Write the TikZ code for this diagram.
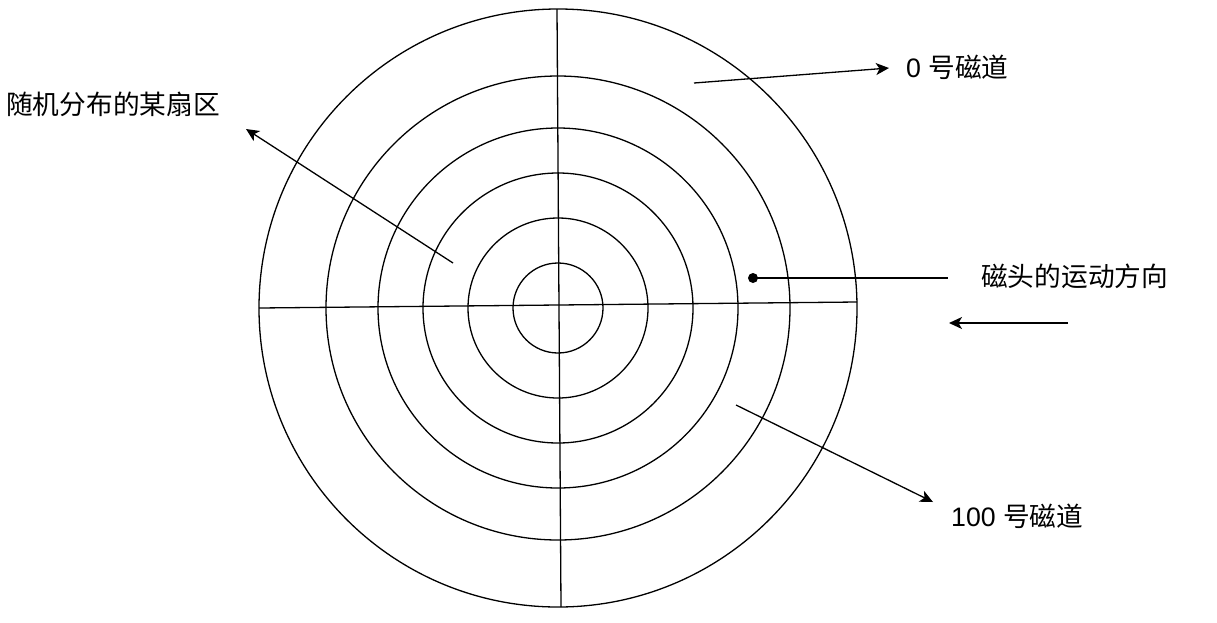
\documentclass[tikz,border=0pt]{standalone}
\usepackage{fontspec}
\setmainfont{Liberation Sans}
\newfontfamily\cjk{Noto Sans CJK SC}
\usetikzlibrary{arrows.meta}
\begin{document}
\begin{tikzpicture}[x=1pt,y=-1pt,
  ln/.style={line width=1.3pt,black},
  arr/.style={ln,-{Stealth[length=13pt,width=12pt,inset=3.5pt]}},
  lbl/.style={anchor=west,inner sep=0pt,font=\fontsize{26.7}{32}\selectfont}]
\useasboundingbox (0,0) rectangle (1217,622);
\coordinate (c) at (558,308);
\foreach \r in {45,90,135,180,232,299}{\draw[ln] (c) circle[radius=\r];}
\coordinate (vt) at (557,9);
\coordinate (vb) at (561,607);
\coordinate (hl) at (259,308);
\coordinate (hr) at (857,302);
\draw[ln] (vt) -- (vb);
\draw[ln] (hl) -- (hr);
% labels
\node[lbl] (t0) at (906,67) {0 {\cjk 号磁道}};
\node[lbl] (head) at (981,276) {\cjk 磁头的运动方向};
\node[lbl] (sec) at (6,104) {\cjk 随机分布的某扇区};
\node[lbl] (t100) at (951,516) {100 {\cjk 号磁道}};
% arrows
\coordinate (a0s) at (694,83);
\coordinate (a0e) at (889,68);
\draw[arr] (a0s) -- (a0e);
\coordinate (ass) at (453,263);
\coordinate (ase) at (246,129);
\draw[arr] (ass) -- (ase);
\coordinate (ats) at (736,405);
\coordinate (ate) at (933,502);
\draw[arr] (ats) -- (ate);
\coordinate (dot) at (753,278);
\coordinate (dote) at (948,278);
\fill (dot) circle[radius=5];
\draw[ln] (dot) -- (dote);
\coordinate (ms) at (1068,323);
\coordinate (me) at (949,323);
\draw[arr] (ms) -- (me);
\end{tikzpicture}
\end{document}
